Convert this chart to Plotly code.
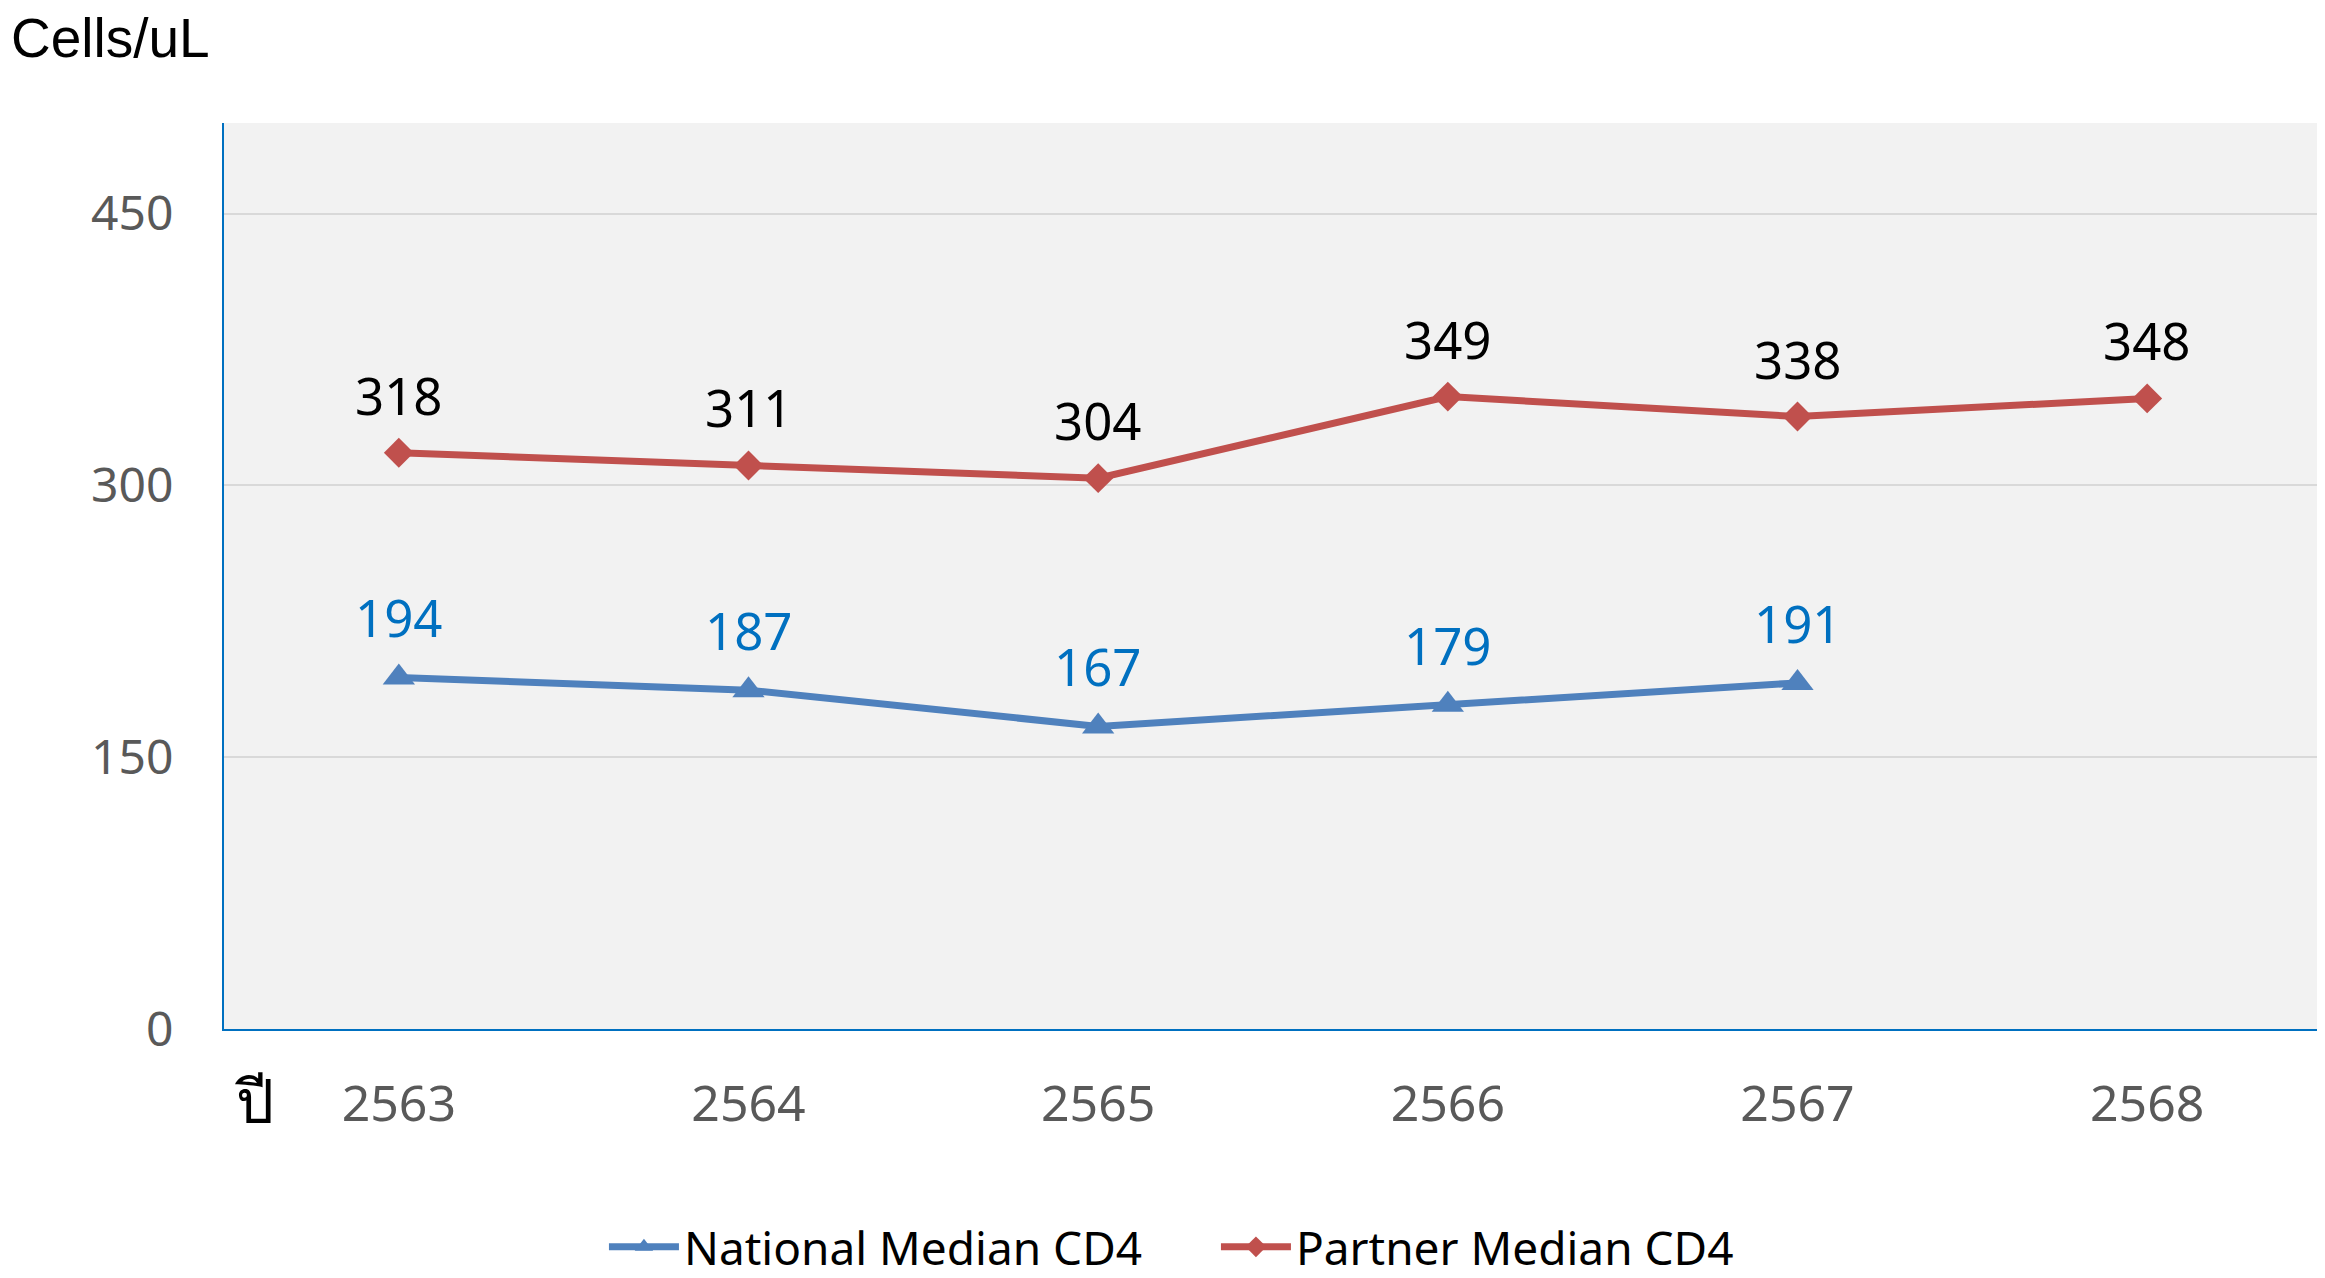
import plotly.graph_objects as go

years = ['2563', '2564', '2565', '2566', '2567', '2568']
national = [194, 187, 167, 179, 191, None]
partner = [318, 311, 304, 349, 338, 348]

blue = '#4F81BD'
red = '#C0504D'

fig = go.Figure()

fig.add_trace(go.Scatter(x=years, y=national, name='National Median CD4', mode='lines+markers',
                         line=dict(color=blue, width=7),
                         marker=dict(symbol='triangle-up', size=28, color=blue)))
fig.add_trace(go.Scatter(x=years, y=partner, name='Partner Median CD4', mode='lines+markers',
                         line=dict(color=red, width=7),
                         marker=dict(symbol='diamond', size=23, color=red)))

# data labels above the points (x given as category index)
for i, v in enumerate(national):
    if v is not None:
        fig.add_annotation(x=i, y=v, text=str(v), showarrow=False, yshift=60,
                           font=dict(family='Noto Sans', size=51, color='#0070C0'))
for i, v in enumerate(partner):
    fig.add_annotation(x=i, y=v, text=str(v), showarrow=False, yshift=58,
                       font=dict(family='Noto Sans', size=51, color='black'))

# unit label and axis label
fig.add_annotation(text='Cells/uL', xref='paper', yref='paper', x=-215/2098, y=1 + 85/906,
                   xanchor='left', yanchor='middle', showarrow=False,
                   font=dict(family='Liberation Sans', size=55, color='black'))
fig.add_annotation(text='ปี', xref='paper', yref='paper', x=(246-216)/2098, y=-71/906,
                   xanchor='center', yanchor='middle', showarrow=False,
                   font=dict(family='Noto Sans', size=60, color='black'))

fig.update_layout(
    width=2317, height=1270,
    margin=dict(l=216, r=3, t=115, b=249, autoexpand=False),
    paper_bgcolor='white', plot_bgcolor='#F2F2F2',
    font=dict(family='Noto Sans', color='#595959'),
    showlegend=True,
    legend=dict(orientation='h', x=0.1811, xanchor='left', y=-0.2405, yanchor='middle',
                font=dict(family='Noto Sans', size=46, color='black'),
                itemwidth=70, entrywidth=527, entrywidthmode='pixels', tracegroupgap=0),
)
fig.update_xaxes(type='category', range=[-0.5, 5.5], showgrid=False, automargin=False,
                 showline=True, linecolor='#0070C0', linewidth=2,
                 ticks='outside', ticklen=30, tickcolor='rgba(0,0,0,0)',
                 tickfont=dict(family='Noto Sans', size=50, color='#595959'))
fig.update_yaxes(range=[0, 500], tickvals=[0, 150, 300, 450], showgrid=True, automargin=False,
                 gridcolor='#D9D9D9', gridwidth=2, zeroline=False,
                 showline=True, linecolor='#0070C0', linewidth=2,
                 ticks='outside', ticklen=39, tickcolor='rgba(0,0,0,0)',
                 tickfont=dict(family='Noto Sans', size=48, color='#595959'))

fig.write_html('out.html')
